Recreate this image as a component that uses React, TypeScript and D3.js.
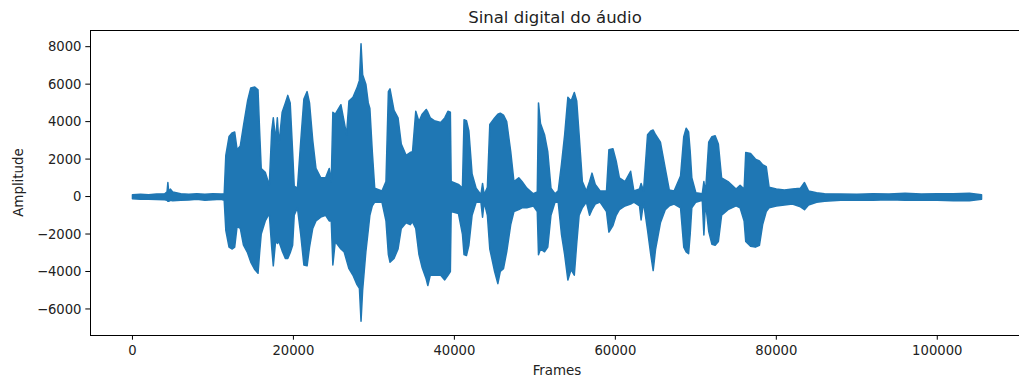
import React from 'react';
import * as d3 from 'd3';

// envelope of the waveform: frame index, peak high, peak low
const frames = [
  0, 1000, 2000, 3000, 4000, 4300, 4400, 4500, 4700, 5000, 6000, 7000, 8000, 9000, 10000, 11000, 11400,
  11600, 12000, 12400, 12700, 13000, 13400, 13800, 14300, 14700, 15200, 15600, 15800, 16000, 16500,
  17000, 17300, 17500, 17800, 18000, 18200, 18600, 19000, 19300, 19600, 19900, 20100, 20500, 20900,
  21300, 21700, 22000, 22400, 22800, 23400, 24000, 24450, 24700, 24900, 25200, 25900, 26300, 26600,
  26900, 27400, 27900, 28200, 28400, 28600, 29000, 29300, 29500, 29800, 30100, 31000, 31500, 31800,
  32000, 32500, 33000, 33400, 34000, 34500, 34800, 35200, 35600, 36000, 36500, 36700, 37000, 37500,
  38300, 38800, 39200, 39500, 39600, 40500, 41000, 41200, 41500, 41800, 42200, 42700, 43300, 43500,
  43700, 44100, 44400, 45000, 45400, 45700, 46100, 46500, 47000, 47400, 48000, 48400, 49000, 49800,
  50300, 50450, 50700, 51200, 51600, 52000, 52500, 52900, 53300, 53700, 54100, 54500, 54900, 55200,
  55500, 55900, 56400, 56800, 57100, 57500, 58100, 58900, 59200, 59700, 60100, 60500, 61200, 61900,
  62300, 63000, 63200, 63500, 64000, 64400, 64700, 65000, 65600, 66200, 66700, 67300, 68100, 68500,
  68800, 69100, 69300, 69500, 70000, 70800, 71000, 71200, 71600, 72000, 72400, 72800, 73200, 74000,
  75000, 75500, 76000, 76200, 76800, 77400, 77900, 78300, 78750, 79100, 80000, 81000, 82000, 83000,
  83500, 84000, 85000, 86000, 88000, 90000, 92000, 94000, 96000, 98000, 100000, 102000, 104000, 105500,
];
const ampMax = [
  100, 120, 90, 130, 150, 250, 750, 250, 400, 250, 150, 120, 150, 120, 150, 130, 150,
  2200, 3200, 3400, 3450, 2500, 2700, 3800, 5100, 5800, 5850, 5700, 3500, 1500, 1300,
  600, 3500, 4200, 3000, 4200, 2800, 4500, 5000, 5400, 5000, 2400, 550, 450, 2900,
  5200, 5600, 5000, 3000, 1500, 1000, 1000, 1500, 800, 4500, 4400, 4900, 4000, 3300,
  5100, 5300, 5800, 6200, 8150, 6500, 6000, 5000, 4700, 2400, 450, 300, 800, 5600,
  5750, 4600, 4200, 2800, 2200, 2350, 2400, 4550, 4000, 4400, 4650, 4500, 4200, 4050,
  3950, 4200, 4550, 4500, 800, 650, 450, 4100, 4050, 3500, 1200, 450, 100, 700,
  100, 500, 3850, 4200, 4400, 4450, 4350, 4000, 2400, 800, 1000, 800, 450, 150,
  250, 5000, 3900, 3300, 2400, 450, 150, 300, 1700, 3300, 5300, 5100, 5550, 5100,
  3300, 800, 300, 800, 1250, 650, 300, 300, 2500, 2550, 1900, 1000, 800, 1350,
  300, 400, 700, 300, 3300, 3500, 3550, 3300, 2900, 1500, 350, 300, 1100, 3200,
  3650, 3450, 2400, 1000, 200, 150, 800, 200, 2900, 3200, 3250, 2800, 1000, 800,
  400, 600, 400, 2350, 2300, 2000, 1900, 1700, 1600, 500, 400, 350, 400, 450,
  750, 300, 200, 150, 130, 120, 150, 130, 180, 130, 150, 150, 170, 100,
];
const ampMin = [
  -120, -150, -140, -160, -170, -200, -250, -250, -200, -230, -200, -180, -150, -200, -170, -150, -200,
  -1800, -2700, -2800, -2700, -1600, -1700, -2600, -3000, -3500, -3900, -4100, -3000, -2000, -1300,
  -900, -2700, -3700, -2300, -2500, -2400, -2900, -3300, -3300, -3000, -2600, -1000, -600, -2000,
  -3650, -3700, -2700, -1700, -1300, -1100, -1000, -1300, -1300, -3650, -2400, -2800, -2950, -3400,
  -3850, -4200, -4700, -4900, -6650, -5000, -2950, -1800, -1000, -500, -300, -300, -1300, -3100,
  -3500, -3300, -2800, -1700, -1400, -1500, -1350, -1700, -3100, -3800, -4400, -4750, -4200, -4200,
  -4200, -4450, -4200, -4000, -800, -900, -2000, -3100, -3150, -2600, -1000, -300, -300, -1100,
  -300, -1000, -2800, -4000, -4650, -4000, -3850, -2950, -1500, -800, -700, -600, -600, -500,
  -800, -3100, -2800, -2950, -2700, -1000, -300, -300, -2000, -3100, -4450, -3900, -4200, -2500,
  -1000, -600, -300, -1000, -700, -400, -300, -800, -1900, -1550, -1000, -700, -500, -400,
  -300, -500, -1250, -300, -1800, -3100, -3950, -2800, -1400, -700, -500, -400, -600, -2700,
  -2950, -3050, -2000, -600, -300, -200, -2050, -300, -1850, -2550, -2600, -2400, -1000, -700,
  -500, -600, -1300, -2400, -2650, -2700, -2600, -1500, -800, -600, -500, -450, -400, -550,
  -700, -450, -300, -250, -200, -180, -200, -170, -200, -180, -200, -220, -230, -150,
];
const xTicks = [0, 20000, 40000, 60000, 80000, 100000];
const yTicks = [-6000, -4000, -2000, 0, 2000, 4000, 6000, 8000];

const W = 1019;
const H = 380;
const left = 90;
const right = 1024;
const top = 30;
const bottom = 335;
const font = '"DejaVu Sans", sans-serif';
const ink = '#222';

export default function App() {
  const pts = frames.map((f, i) => ({ f, hi: ampMax[i], lo: ampMin[i] }));

  const fMax = d3.max(frames) as number;
  const fMin = d3.min(frames) as number;
  const xPad = (fMax - fMin) * 0.05;
  const x = d3.scaleLinear().domain([fMin - xPad, fMax + xPad]).range([left, right]);

  const aMax = d3.max(ampMax) as number;
  const aMin = d3.min(ampMin) as number;
  const yPad = (aMax - aMin) * 0.05;
  const y = d3.scaleLinear().domain([aMin - yPad, aMax + yPad]).range([bottom, top]);

  const area = d3.area<{ f: number; hi: number; lo: number }>()
    .x(d => x(d.f))
    .y0(d => y(d.lo))
    .y1(d => y(d.hi));

  return (
    <svg
      width={W}
      height={H}
      style={{ position: 'absolute', left: 0, top: 0, background: '#fff' }}
    >
      <rect x={0} y={0} width={W} height={H} fill="#fff" />
      <path
        d={area(pts) || ''}
        fill="#1f77b4"
        stroke="#1f77b4"
        strokeWidth={1.5}
        strokeLinejoin="round"
      />

      {/* spines */}
      <rect x={left} y={top} width={right - left} height={bottom - top} fill="none" stroke="#000" strokeWidth={1} shapeRendering="crispEdges" />

      {/* x axis */}
      {xTicks.map(t => (
        <g key={t} transform={`translate(${x(t)},${bottom})`}>
          <line y1={0} y2={4.7} stroke="#000" strokeWidth={1} />
          <text y={20} textAnchor="middle" fontFamily={font} fontSize={13.2} fill={ink}>{t}</text>
        </g>
      ))}
      <text x={557} y={375} textAnchor="middle" fontFamily={font} fontSize={13.4} fill={ink}>Frames</text>

      {/* y axis */}
      {yTicks.map(t => (
        <g key={t} transform={`translate(${left},${y(t)})`}>
          <line x1={0} x2={-4.7} stroke="#000" strokeWidth={1} />
          <text x={-8.5} dy="0.35em" textAnchor="end" fontFamily={font} fontSize={13.2} fill={ink}>
            {t < 0 ? `\u2212${Math.abs(t)}` : t}
          </text>
        </g>
      ))}
      <text
        transform={`translate(23,${(top + bottom) / 2}) rotate(-90)`}
        textAnchor="middle"
        fontFamily={font}
        fontSize={13.4}
        fill={ink}
      >
        Amplitude
      </text>

      <text x={555} y={23} textAnchor="middle" fontFamily={font} fontSize={16.5} fill={ink}>
        Sinal digital do áudio
      </text>
    </svg>
  );
}
